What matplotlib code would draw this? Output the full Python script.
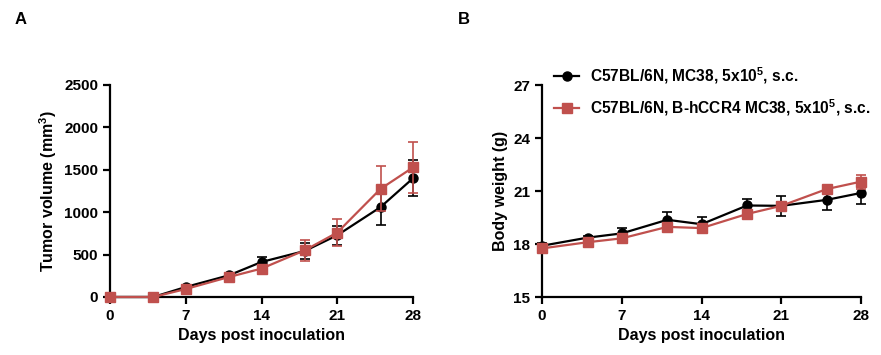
import matplotlib
matplotlib.use("Agg")
import matplotlib.pyplot as plt

plt.rcParams['font.family'] = ['Liberation Sans', 'DejaVu Sans']
plt.rcParams['font.weight'] = 'bold'
plt.rcParams['mathtext.default'] = 'regular'

days = [0, 4, 7, 11, 14, 18, 21, 25, 28]

# tumor volume (mm3)
vol_wt = [0, 0, 118, 256, 413, 543, 728, 1060, 1400]
vol_wt_err = [0, 0, 15, 20, 60, 95, 110, 210, 210]
vol_hccr4 = [0, 0, 94, 236, 335, 551, 760, 1275, 1528]
vol_hccr4_err = [0, 0, 15, 20, 30, 125, 155, 265, 300]

# body weight (g)
bw_wt = [17.9, 18.36, 18.6, 19.37, 19.12, 20.18, 20.16, 20.5, 20.89]
bw_wt_err = [0.15, 0.1, 0.3, 0.45, 0.4, 0.36, 0.55, 0.57, 0.6]
bw_hccr4 = [17.75, 18.1, 18.32, 18.97, 18.9, 19.7, 20.16, 21.11, 21.53]
bw_hccr4_err = [0.15, 0.15, 0.25, 0.2, 0.15, 0.2, 0.2, 0.15, 0.4]

labels = ['C57BL/6N, MC38, 5x10$^5$, s.c.',
          'C57BL/6N, B-hCCR4 MC38, 5x10$^5$, s.c.']
black = '#000000'
red = '#C0504D'

fig = plt.figure(figsize=(8.81, 3.55), dpi=100)
axA = fig.add_axes([110/881, 1-297/355, (413-110)/881, (297-85)/355])
axB = fig.add_axes([542/881, 1-297/355, (861-542)/881, (297-85)/355])


def draw(ax, y1, e1, y2, e2):
    ax.errorbar(days, y1, yerr=e1, color=black, marker='o', ms=6.5, lw=1.6,
                capsize=3.5, elinewidth=1.2, capthick=1.2, clip_on=False,
                label=labels[0], zorder=3)
    ax.errorbar(days, y2, yerr=e2, color=red, marker='s', ms=6.5, lw=1.6,
                capsize=3.5, elinewidth=1.2, capthick=1.2, clip_on=False,
                label=labels[1], zorder=4)
    for s in ['top', 'right']:
        ax.spines[s].set_visible(False)
    for s in ['left', 'bottom']:
        ax.spines[s].set_linewidth(1.6)
    ax.tick_params(width=1.6, length=5, labelsize=11)
    ax.set_xlim(0, 28)
    ax.set_xticks([0, 7, 14, 21, 28])
    ax.set_xlabel('Days post inoculation', fontsize=11.5, fontweight='bold')
    for t in ax.get_xticklabels() + ax.get_yticklabels():
        t.set_fontweight('bold')


draw(axA, vol_wt, vol_wt_err, vol_hccr4, vol_hccr4_err)
axA.set_ylim(0, 2500)
axA.set_yticks([0, 500, 1000, 1500, 2000, 2500])
axA.set_ylabel('Tumor volume (mm$^3$)', fontsize=11.5, fontweight='bold')

draw(axB, bw_wt, bw_wt_err, bw_hccr4, bw_hccr4_err)
axB.set_ylim(15, 27)
axB.set_yticks([15, 18, 21, 24, 27])
axB.set_ylabel('Body weight (g)', fontsize=11.5, fontweight='bold')

h, l = axB.get_legend_handles_labels()
axB.legend([hh[0] for hh in h], l, loc='upper left', bbox_to_anchor=(0.0, 1.15),
           frameon=False, handlelength=1.6, handletextpad=0.7, labelspacing=0.68,
           borderpad=0.3, prop={'weight': 'bold', 'size': 11.2})

fig.text(15/881, 1-20/355, 'A', fontsize=12, fontweight='bold', va='center')
fig.text(458/881, 1-20/355, 'B', fontsize=12, fontweight='bold', va='center')

fig.savefig('out.png', dpi=100)
